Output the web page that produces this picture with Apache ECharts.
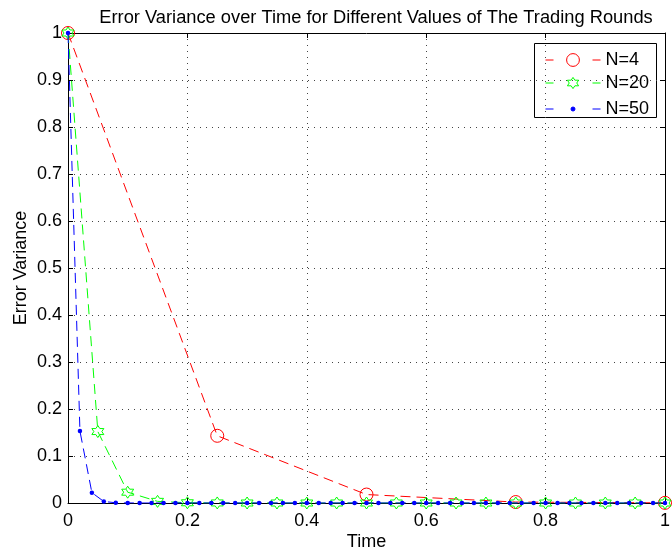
<!DOCTYPE html>
<html><head><meta charset="utf-8">
<script src="https://cdn.jsdelivr.net/npm/echarts@6/dist/echarts.min.js"></script>
<style>html,body{margin:0;padding:0;background:#fff}#c{width:672px;height:554px}</style>
</head><body><div id="c"></div>
<script>
const titleText = 'Error Variance over Time for Different Values of The Trading Rounds';
const xName = 'Time';
const yName = 'Error Variance';
const seriesNames = ['N=4', 'N=20', 'N=50'];

const time4 = [0, 0.25, 0.5, 0.75, 1];
const var4 = [1, 0.143, 0.018, 0.002, 0.0003];

const time20 = [0, 0.05, 0.1, 0.15, 0.2, 0.25, 0.3, 0.35, 0.4, 0.45, 0.5, 0.55, 0.6, 0.65, 0.7, 0.75, 0.8, 0.85, 0.9, 0.95, 1];
const var20 = [1, 0.152, 0.023, 0.0035, 0.0005, 0.0001, 0, 0, 0, 0, 0, 0, 0, 0, 0, 0, 0, 0, 0, 0, 0];

const time50 = [0, 0.02, 0.04, 0.06, 0.08, 0.1, 0.12, 0.14, 0.16, 0.18, 0.2, 0.22, 0.24, 0.26, 0.28, 0.3, 0.32, 0.34, 0.36, 0.38, 0.4, 0.42, 0.44, 0.46, 0.48, 0.5, 0.52, 0.54, 0.56, 0.58, 0.6, 0.62, 0.64, 0.66, 0.68, 0.7, 0.72, 0.74, 0.76, 0.78, 0.8, 0.82, 0.84, 0.86, 0.88, 0.9, 0.92, 0.94, 0.96, 0.98, 1];
const var50 = [1, 0.153, 0.022, 0.0032, 0.0005, 0.0001, 0, 0, 0, 0, 0, 0, 0, 0, 0, 0, 0, 0, 0, 0, 0, 0, 0, 0, 0, 0, 0, 0, 0, 0, 0, 0, 0, 0, 0, 0, 0, 0, 0, 0, 0, 0, 0, 0, 0, 0, 0, 0, 0, 0, 0];

const FONT = '"Liberation Sans", Arial, Helvetica, sans-serif';
const FS = 18;
const hexagram = 'path://M50,0 L64.4,25 L93.3,25 L78.9,50 L93.3,75 L64.4,75 L50,100 L35.6,75 L6.7,75 L21.1,50 L6.7,25 L35.6,25 Z';

function pairs(xs, ys) { return xs.map((x, i) => [x, ys[i]]); }

const gridLine = { show: true, lineStyle: { color: '#444', type: [1, 5], width: 1 } };
const axisLine = { show: true, onZero: false, lineStyle: { color: '#000', width: 1 } };
const axisTick = { show: true, inside: true, length: 5, lineStyle: { color: '#000' } };
const labelStyle = { color: '#000', fontSize: FS, fontFamily: FONT };
const dash = [10, 6];

function legendFor(name, rowCenter, h) {
  return {
    orient: 'vertical', left: 545, top: rowCenter - h / 2, padding: 0,
    itemWidth: 55, itemHeight: h, itemGap: 0,
    lineStyle: { type: [8, 39], width: 1 },
    itemStyle: { borderWidth: 1 },
    textStyle: { fontSize: FS, color: '#000', fontFamily: FONT, padding: [0, 0, 0, 0] },
    data: [name]
  };
}

const chart = echarts.init(document.getElementById('c'));
chart.setOption({
  animation: false,
  backgroundColor: '#fff',
  title: {
    text: titleText, left: 371, top: 4, textAlign: 'center',
    textStyle: { fontSize: 18.3, fontWeight: 'normal', color: '#000', fontFamily: FONT }
  },
  graphic: [{
    type: 'rect', left: 534, top: 43, z: 0,
    shape: { width: 122, height: 74 },
    style: { fill: '#fff', stroke: '#000', lineWidth: 1 }
  }],
  grid: { left: 68, right: 7, top: 33, bottom: 51, containLabel: false, outerBoundsMode: 'none' },
  legend: [
    legendFor(seriesNames[0], 59, 16),
    legendFor(seriesNames[1], 81, 14),
    legendFor(seriesNames[2], 102.5, 5)
  ],
  xAxis: [{
    type: 'value', min: 0, max: 1, interval: 0.2,
    name: xName, nameLocation: 'middle', nameGap: 30, nameMoveOverlap: false,
    nameTextStyle: { fontSize: FS, color: '#000', fontFamily: FONT },
    axisLine, axisTick, splitLine: gridLine,
    axisLabel: Object.assign({ margin: 9 }, labelStyle)
  }, {
    type: 'value', min: 0, max: 1, interval: 0.2, position: 'top',
    axisLine, axisTick, splitLine: { show: false }, axisLabel: { show: false }
  }],
  yAxis: [{
    type: 'value', min: 0, max: 1, interval: 0.1,
    name: yName, nameLocation: 'middle', nameGap: 38, nameMoveOverlap: false,
    nameTextStyle: { fontSize: FS, color: '#000', fontFamily: FONT },
    axisLine, axisTick, splitLine: gridLine,
    axisLabel: Object.assign({ margin: 6, formatter: v => String(+v.toFixed(1)) }, labelStyle)
  }, {
    type: 'value', min: 0, max: 1, interval: 0.1, position: 'right',
    axisLine, axisTick, splitLine: { show: false }, axisLabel: { show: false }
  }],
  series: [{
    name: seriesNames[0], type: 'line', data: pairs(time4, var4),
    symbol: 'circle', symbolSize: 13, showAllSymbol: true,
    lineStyle: { color: '#ff0000', width: 1, type: dash },
    itemStyle: { color: 'rgba(255,255,255,0)', borderColor: '#ff0000', borderWidth: 1 },
    z: 2
  }, {
    name: seriesNames[1], type: 'line', data: pairs(time20, var20),
    symbol: hexagram, symbolSize: 12, showAllSymbol: true,
    lineStyle: { color: '#00ff00', width: 1, type: dash },
    itemStyle: { color: 'rgba(255,255,255,0)', borderColor: '#00ff00', borderWidth: 1 },
    z: 3
  }, {
    name: seriesNames[2], type: 'line', data: pairs(time50, var50),
    symbol: 'circle', symbolSize: 4.5, showAllSymbol: true,
    lineStyle: { color: '#0000ff', width: 1, type: dash },
    itemStyle: { color: '#0000ff', borderColor: '#0000ff', borderWidth: 0 },
    z: 4
  }]
});
</script>
</body></html>
